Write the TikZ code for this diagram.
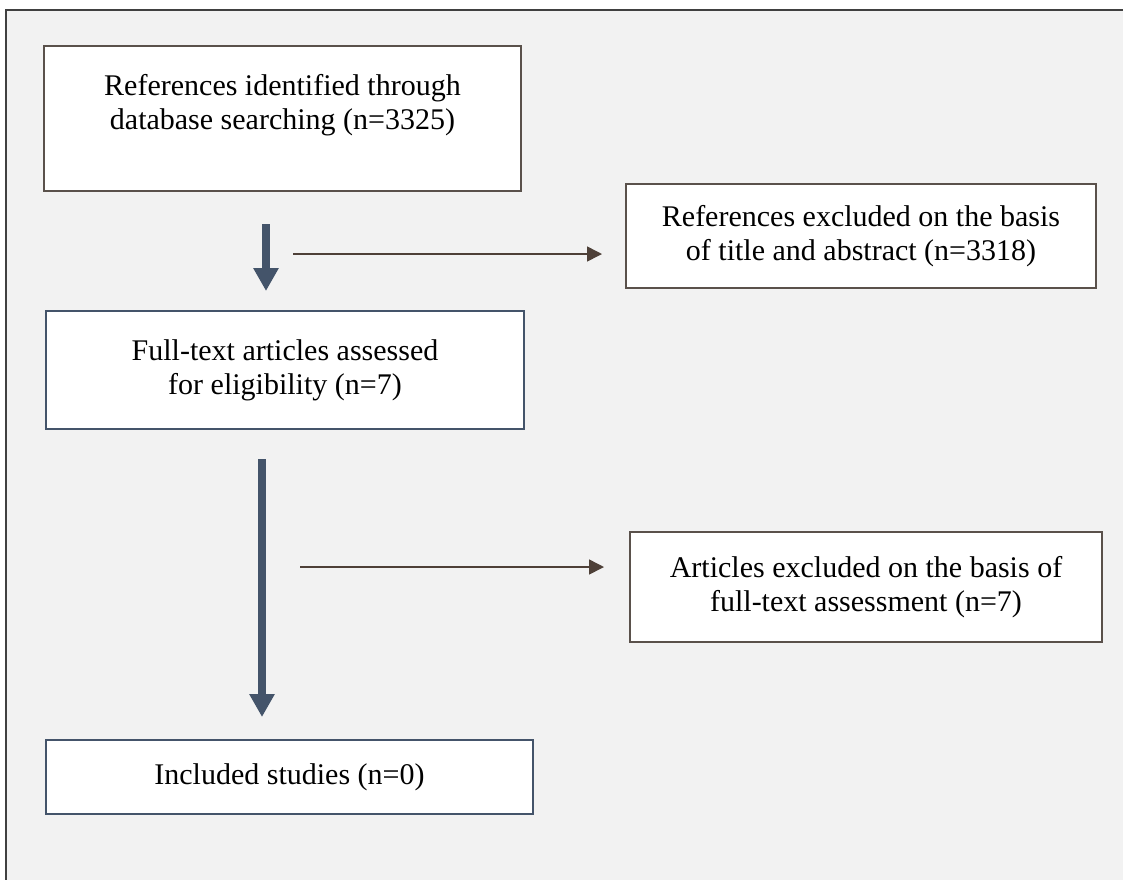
\documentclass[tikz,border=0pt]{standalone}
\usepackage{fontspec}
\setmainfont{Liberation Serif}
\usepackage{tikz}
\usetikzlibrary{arrows.meta}

\definecolor{panelgray}{HTML}{F2F2F2}
\definecolor{slateblue}{HTML}{44546A}
\definecolor{darkbrown}{HTML}{4E4038}
\definecolor{boxbrown}{HTML}{5A514B}

\begin{document}
\begin{tikzpicture}[x=1pt,y=-1pt,
  box/.style={draw=boxbrown,line width=2pt,fill=white,align=center,inner sep=0pt,
    font=\fontsize{30}{34}\selectfont},
  bluebox/.style={box,draw=slateblue},
  thickarr/.style={slateblue,line width=8pt,-{Triangle[width=24pt,length=23pt]}},
  thinarr/.style={darkbrown,line width=1.5pt,-{Triangle[width=15pt,length=15pt]}}]
\useasboundingbox (0,0) rectangle (1123,879);
\clip (0,0) rectangle (1123,879);
\draw[fill=panelgray,draw=black!75,line width=2pt] (6,10) rectangle (1135,890);

\node [box,minimum width=477,minimum height=145] (refs) at (282.5,118.5)
  {References identified through\\database searching (n=3325)\\ \mbox{}};
\node [box,minimum width=470,minimum height=104] (excl1) at (861,236)
  {References excluded on the basis\\of title and abstract (n=3318)};
\node [bluebox,minimum width=478,minimum height=118] (full) at (285,370)
  {Full-text articles assessed\\for eligibility (n=7)};
\node [box,minimum width=472,minimum height=110] (excl2) at (866,587)
  {Articles excluded on the basis of\\full-text assessment (n=7)};
\node [bluebox,minimum width=487,minimum height=74] (incl) at (289.5,777)
  {Included studies (n=0)};

\coordinate (s1) at (293,254);
\coordinate (s2) at (300,567);

\draw [thickarr,shorten <=32pt,shorten >=19pt] ([xshift=-16.5pt]refs.south) -- ([xshift=-16.5pt]refs.south |- full.north);
\draw [thinarr,shorten >=23pt] (s1) -- (s1 -| excl1.west);
\draw [thickarr,shorten <=29pt,shorten >=22pt] ([xshift=-23pt]full.south) -- ([xshift=-23pt]full.south |- incl.north);
\draw [thinarr,shorten >=25pt] (s2) -- (s2 -| excl2.west);
\end{tikzpicture}
\end{document}
